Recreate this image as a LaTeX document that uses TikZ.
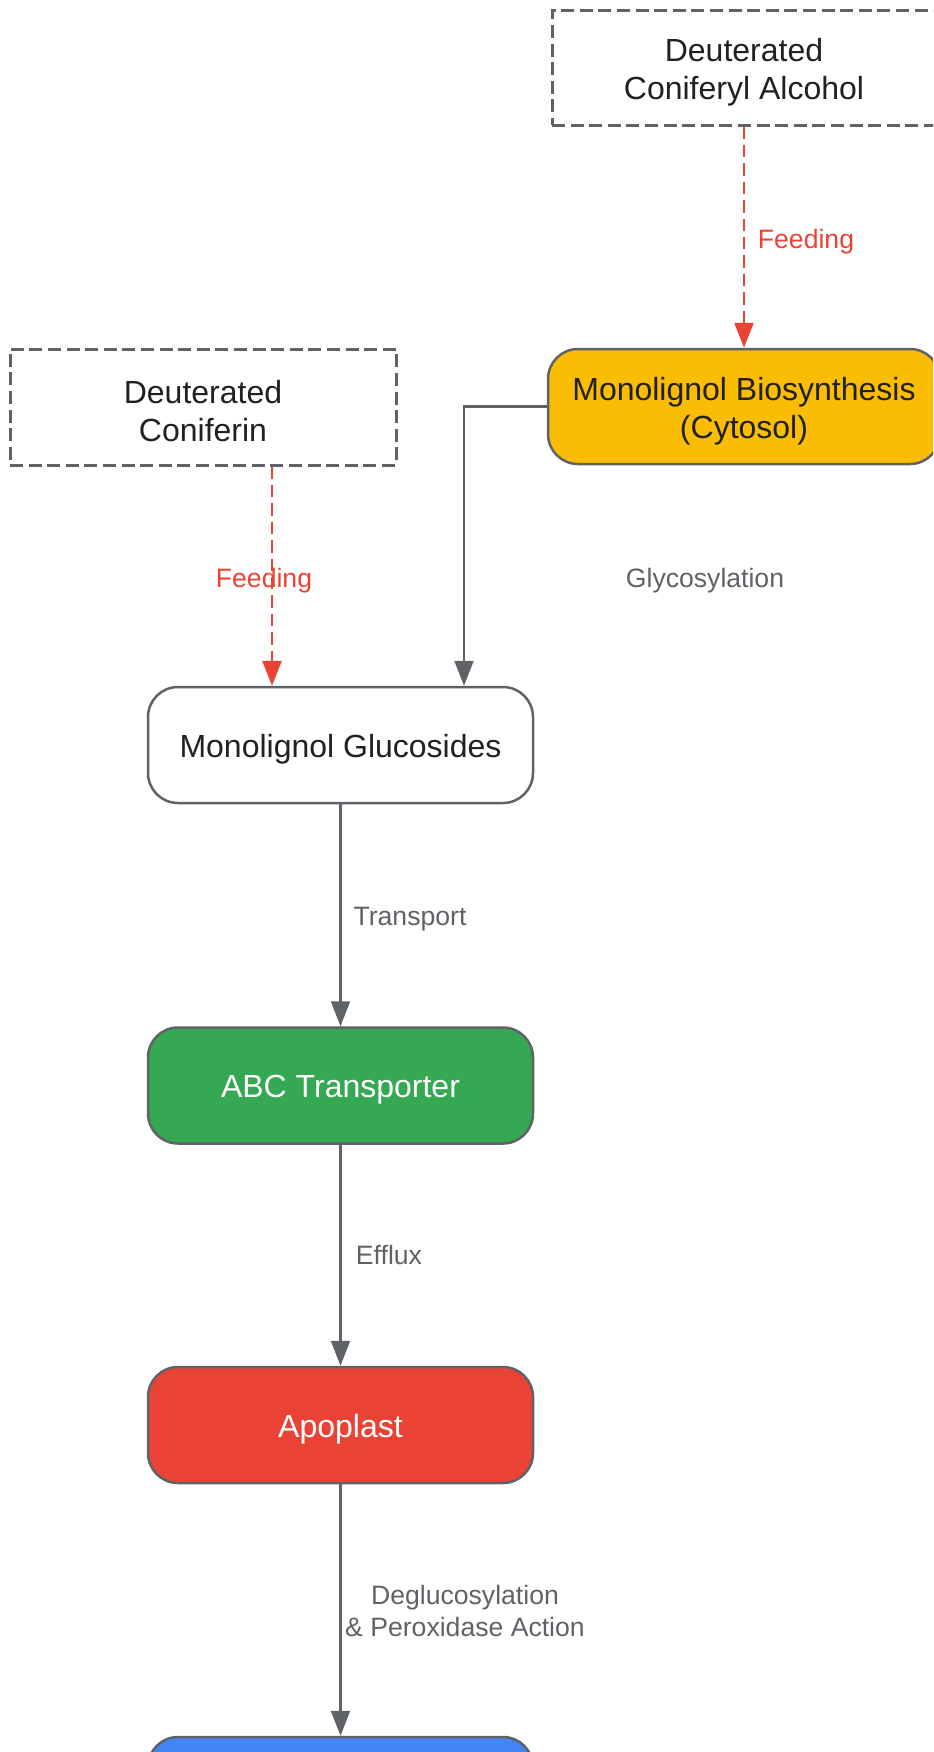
\documentclass[tikz,border=0pt]{standalone}
\usepackage{fontspec}
\setmainfont{Liberation Sans}
\usetikzlibrary{arrows.meta}
\definecolor{lgray}{HTML}{5F6368}
\definecolor{tdark}{HTML}{202124}
\definecolor{gyel}{HTML}{FBBC04}
\definecolor{ggrn}{HTML}{34A853}
\definecolor{gred}{HTML}{EA4335}
\definecolor{gblu}{HTML}{4285F4}
\tikzset{
  box/.style={draw=lgray, line width=1.25pt, rounded corners=15pt, minimum width=192.5pt, minimum height=58pt, inner sep=0pt},
  dbox/.style={draw=lgray, line width=1.5pt, dash pattern=on 6.5pt off 2.8pt, minimum width=192.5pt, minimum height=58pt, inner sep=0pt},
  tx/.style={inner sep=0pt, align=center, text=tdark, font=\fontsize{16}{19}\selectfont, yshift=-2.2pt},
  flow/.style={draw=lgray, line width=1.1pt, -{Triangle[length=12.5pt, width=9.5pt]}},
  feed/.style={draw=gred, line width=1.3pt, dash pattern=on 6.2pt off 3pt, -{Triangle[length=12.5pt, width=9.5pt]}},
  lbl/.style={text=lgray, font=\fontsize{13.3}{16}\selectfont, inner sep=0pt, align=center},
  rlbl/.style={text=gred, font=\fontsize{13.3}{16}\selectfont, inner sep=0pt},
}
\begin{document}
\begin{tikzpicture}[x=0.5pt, y=-0.5pt]
\useasboundingbox (0,0) rectangle (933,1752);
\fill[white] (0,0) rectangle (933,1752);
\clip (0,0) rectangle (933,1752);
\node[dbox, minimum width=200pt, minimum height=57.5pt,
  label={[tx, xshift=-4pt]center:Deuterated\\Coniferyl Alcohol}] (alc) at (752,67.5) {};
\node[box, fill=gyel, minimum width=196pt, minimum height=57.5pt,
  label={[tx]center:Monolignol Biosynthesis\\(Cytosol)}] (bio) at (744,406.5) {};
\node[dbox, minimum width=193pt,
  label={[tx]center:Deuterated\\Coniferin}] (cfn) at (203,407) {};
\node[box, fill=white, label={[tx]center:Monolignol Glucosides}] (glu) at (340.5,745) {};
\node[box, fill=ggrn, label={[tx, text=white]center:ABC Transporter}] (abc) at (340.5,1085.5) {};
\node[box, fill=gred, label={[tx, text=white]center:Apoplast}] (apo) at (340.5,1425) {};
\node[box, fill=gblu] (lig) at (340.5,1795) {};
\coordinate (ax) at (744,0);
\coordinate (fx) at (272,0);
\coordinate (gx) at (464,0);
\draw[feed] (alc.south -| ax) -- (bio.north);
\draw[feed] (cfn.south -| fx) -- (glu.north -| fx);
\draw[flow] (bio.west) -| (glu.north -| gx);
\draw[flow] (glu.south) -- (abc.north);
\draw[flow] (abc.south) -- (apo.north);
\draw[flow] (apo.south) -- (lig.north);
\node[rlbl] (l1) at (806,241.5) {Feeding};
\node[rlbl] (l2) at (264,580.5) {Feeding};
\node[lbl] (l3) at (705,580.5) {Glycosylation};
\node[lbl] (l4) at (410,919.5) {Transport};
\node[lbl] (l5) at (389,1255) {Efflux};
\node[lbl] (l6) at (465,1611) {Deglucosylation\\\& Peroxidase Action};
\end{tikzpicture}
\end{document}
